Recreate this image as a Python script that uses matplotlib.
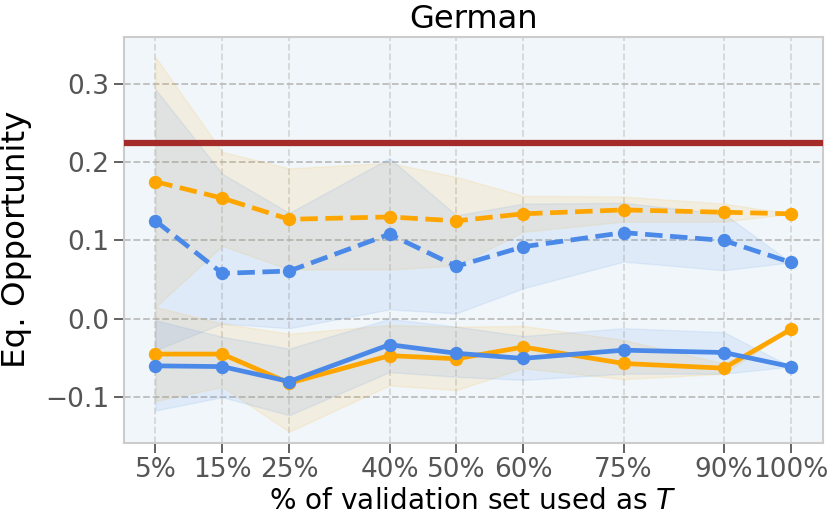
import matplotlib
matplotlib.use("Agg")
import matplotlib.pyplot as plt
import numpy as np

x_pct = [5, 15, 25, 40, 50, 60, 75, 90, 100]
x_labels = ["5%", "15%", "25%", "40%", "50%", "60%", "75%", "90%", "100%"]

baseline = 0.224

orange_dash = [0.175, 0.154, 0.127, 0.130, 0.125, 0.134, 0.139, 0.136, 0.134]
orange_dash_hi = [0.334, 0.213, 0.192, 0.199, 0.181, 0.157, 0.156, 0.147, 0.134]
orange_dash_lo = [0.015, 0.093, 0.063, 0.063, 0.068, 0.111, 0.124, 0.124, 0.134]

blue_dash = [0.125, 0.058, 0.061, 0.108, 0.067, 0.092, 0.110, 0.100, 0.072]
blue_dash_hi = [0.293, 0.185, 0.135, 0.205, 0.132, 0.147, 0.148, 0.134, 0.072]
blue_dash_lo = [-0.040, -0.006, -0.012, 0.012, 0.007, 0.039, 0.073, 0.062, 0.072]

orange_solid = [-0.045, -0.045, -0.082, -0.047, -0.051, -0.036, -0.057, -0.063, -0.0135]
orange_solid_hi = [0.015, -0.006, -0.019, -0.008, -0.010, -0.009, -0.027, -0.057, -0.0135]
orange_solid_lo = [-0.105, -0.087, -0.144, -0.085, -0.091, -0.063, -0.077, -0.070, -0.0135]

blue_solid = [-0.060, -0.061, -0.080, -0.033, -0.044, -0.0505, -0.040, -0.043, -0.061]
blue_solid_hi = [-0.002, -0.023, -0.038, 0.000, -0.010, -0.022, -0.012, -0.017, -0.061]
blue_solid_lo = [-0.117, -0.100, -0.123, -0.068, -0.074, -0.078, -0.070, -0.070, -0.061]

ORANGE = "#FFA500"
BLUE = "#4A89E8"
RED = "#A52A2A"

fig = plt.figure(figsize=(8.3, 5.32), dpi=100)
ax = fig.add_axes([0.149, 0.168, 0.842, 0.763])
ax.set_facecolor("#F0F6FA")

x = np.array(x_pct)
ax.axhline(baseline, color=RED, lw=4.5, zorder=3)

for m, lo, hi, col, ls in [
    (orange_dash, orange_dash_lo, orange_dash_hi, ORANGE, "--"),
    (blue_dash, blue_dash_lo, blue_dash_hi, BLUE, "--"),
    (orange_solid, orange_solid_lo, orange_solid_hi, ORANGE, "-"),
    (blue_solid, blue_solid_lo, blue_solid_hi, BLUE, "-"),
]:
    ax.fill_between(x, lo, hi, color=col, alpha=0.1, lw=1, zorder=2)
    ax.plot(x, m, ls, color=col, lw=3.4, marker="o", ms=8.6, zorder=4)

ax.set_xticks(x)
ax.set_xticklabels(x_labels)
ax.set_yticks([-0.1, 0.0, 0.1, 0.2, 0.3])
ax.set_ylim(-0.158, 0.36)
ax.set_xlim(0.25, 104.75)

ax.xaxis.grid(True, ls="--", color="#D6D6D6", lw=1.3)
ax.yaxis.grid(True, ls="--", color="#BDBDBD", lw=1.3)
ax.set_axisbelow(True)
for s in ax.spines.values():
    s.set_color("#CCCCCC")
    s.set_linewidth(1.5)

ax.tick_params(axis="both", colors="#555555", labelsize=19, length=7, width=1.3,
               labelcolor="#555555")
ax.set_title("German", fontsize=23.2, color="black", pad=6)
ax.set_ylabel("Eq. Opportunity", fontsize=23.4, color="black", labelpad=9)
ax.set_xlabel("% of validation set used as $T$", fontsize=20.2, color="black", labelpad=3)

fig.savefig("out.png", dpi=100)
